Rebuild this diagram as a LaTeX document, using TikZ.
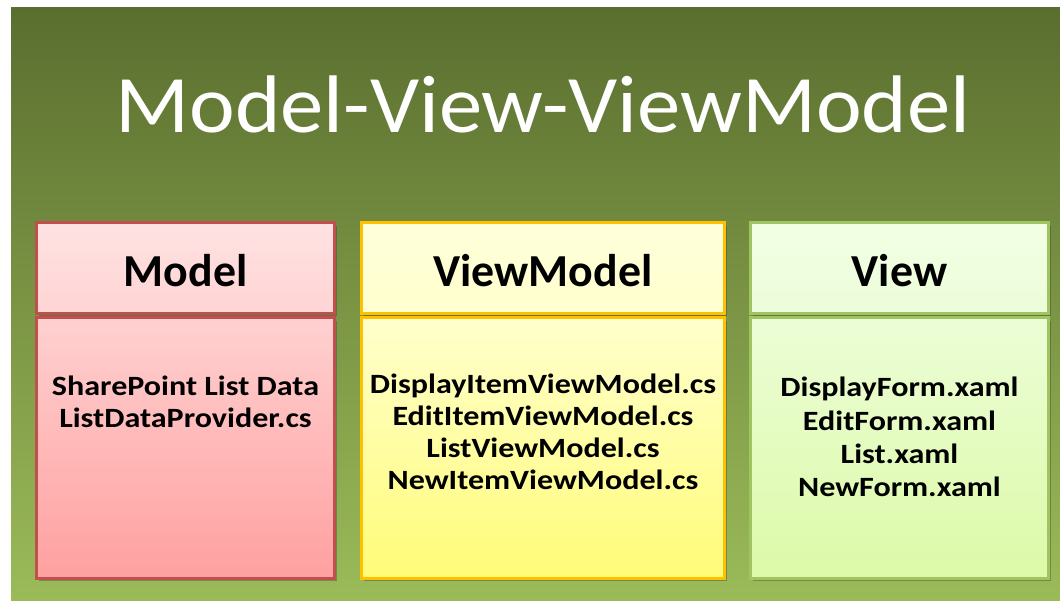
\documentclass[tikz,border=0pt]{standalone}
\usepackage{fontspec}
\setmainfont{Carlito}
\newfontfamily\titlefont[FakeStretch=1.06]{Carlito}
\newfontfamily\itemfont[FakeStretch=1.15]{Carlito}
\usetikzlibrary{shadows}

% background
\definecolor{bgtop}{RGB}{90,110,47}
\definecolor{bgbot}{RGB}{155,187,89}
% Model pane
\definecolor{mBorder}{RGB}{192,80,77}
\definecolor{mHeadTop}{RGB}{255,226,226}
\definecolor{mHeadBot}{RGB}{255,212,212}
\definecolor{mBodyTop}{RGB}{255,208,208}
\definecolor{mBodyBot}{RGB}{255,160,160}
% ViewModel pane
\definecolor{vmBorder}{RGB}{255,192,0}
\definecolor{vmHeadTop}{RGB}{255,255,218}
\definecolor{vmHeadBot}{RGB}{255,255,206}
\definecolor{vmBodyTop}{RGB}{255,255,204}
\definecolor{vmBodyBot}{RGB}{255,252,120}
% View pane
\definecolor{vBorder}{RGB}{160,196,96}
\definecolor{vHeadTop}{RGB}{242,255,228}
\definecolor{vHeadBot}{RGB}{236,253,218}
\definecolor{vBodyTop}{RGB}{236,253,214}
\definecolor{vBodyBot}{RGB}{220,250,168}

\begin{document}
\begin{tikzpicture}[x=1bp,y=-1bp,
  pane/.style={rectangle, draw, line width=3bp, inner sep=0pt,
    drop shadow={shadow xshift=2.5bp, shadow yshift=-3bp, opacity=0.35, fill=black!80}},
  headtext/.style={font=\bfseries\fontsize{46}{48}\selectfont, text=black, inner sep=0pt, anchor=base},
  bodytext/.style={font=\itemfont\bfseries\fontsize{28}{32}\selectfont, text=black, inner sep=0pt,
    align=center, anchor=north},
]
\useasboundingbox (0,0) rectangle (1060,601);
\fill[white] (0,0) rectangle (1060,601);
\shade[top color=bgtop, bottom color=bgbot] (11,8) rectangle (1060,601);

% title
\node[font=\titlefont\fontsize{82}{86}\selectfont, text=white, inner sep=0pt, anchor=base]
  (title) at (543,133) {Model-View-ViewModel};

% Model
\node[pane, draw=mBorder, top color=mHeadTop, bottom color=mHeadBot,
  minimum width=300, minimum height=91] (modelHead) at (185.5,268) {};
\node[pane, draw=mBorder, top color=mBodyTop, bottom color=mBodyBot,
  minimum width=300, minimum height=261] (modelBody) at (185.5,448) {};
\node[headtext] (modelLabel) at (185.5,287) {Model};
\node[bodytext] (modelText) at (185.5,376) {SharePoint List Data\\ListDataProvider.cs};

% ViewModel
\node[pane, draw=vmBorder, top color=vmHeadTop, bottom color=vmHeadBot,
  minimum width=365, minimum height=91] (vmHead) at (543,268) {};
\node[pane, draw=vmBorder, top color=vmBodyTop, bottom color=vmBodyBot,
  minimum width=365, minimum height=261] (vmBody) at (543,448) {};
\node[headtext] (vmLabel) at (543,287) {ViewModel};
\node[bodytext] (vmText) at (543,374) {DisplayItemViewModel.cs\\EditItemViewModel.cs\\ListViewModel.cs\\NewItemViewModel.cs};

% View
\node[pane, draw=vBorder, top color=vHeadTop, bottom color=vHeadBot,
  minimum width=300, minimum height=91] (viewHead) at (899.5,268) {};
\node[pane, draw=vBorder, top color=vBodyTop, bottom color=vBodyBot,
  minimum width=300, minimum height=261] (viewBody) at (899.5,448) {};
\node[headtext] (viewLabel) at (899.5,287) {View};
\node[bodytext, font=\itemfont\bfseries\fontsize{28}{33.5}\selectfont] (viewText) at (899.5,377)
  {DisplayForm.xaml\\EditForm.xaml\\List.xaml\\NewForm.xaml};
\end{tikzpicture}
\end{document}
